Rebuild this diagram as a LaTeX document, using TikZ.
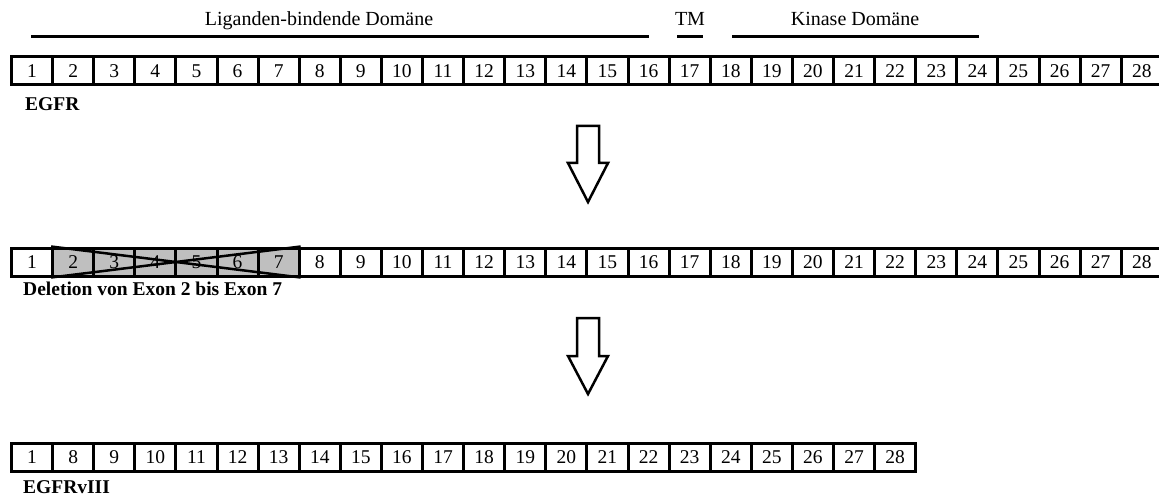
\documentclass[tikz,border=0pt]{standalone}
\usepackage{fontspec}
\setmainfont{Liberation Serif}
\begin{document}
\begin{tikzpicture}[x=1pt,y=-1pt,
  exon/.style={draw, line width=3pt, minimum width=41.1pt, minimum height=28pt,
    inner sep=0pt, fill=white, font=\fontsize{19.5}{21}\selectfont},
  deleted/.style={exon, fill=gray!50},
  rowlabel/.style={anchor=base west, inner sep=0pt, font=\fontsize{19.5}{21}\selectfont\bfseries},
  domlabel/.style={anchor=base, inner sep=0pt, font=\fontsize{20}{22}\selectfont},
  domline/.style={line width=3pt},
  cross/.style={line width=2.5pt},
  blockarrow/.style={line width=2.5pt, line join=miter, fill=white}]
\useasboundingbox (0,0) rectangle (1159,497);
\def\xo{11.5}
\def\pw{41.1}
% domain annotations
\node[domlabel] (lbd) at (319,26) {Liganden-bindende Domäne};
\node[domlabel] (tm) at (690,26) {TM};
\node[domlabel] (kd) at (855,26) {Kinase Domäne};
\coordinate (lbdA) at (31,37); \coordinate (lbdB) at (649,37);
\coordinate (tmA) at (677,37); \coordinate (tmB) at (703,37);
\coordinate (kdA) at (732,37); \coordinate (kdB) at (979,37);
\draw[domline] (lbdA) -- (lbdB);
\draw[domline] (tmA) -- (tmB);
\draw[domline] (kdA) -- (kdB);
% row 1: EGFR
\foreach \i in {1,...,28}{
  \node[exon] (a\i) at ({\xo+(\i-0.5)*\pw},71) {\i};
}
\node[rowlabel] (egfr) at (25,111) {EGFR};
% row 2: deletion
\foreach \i in {1,...,28}{
  \ifnum\i<2
    \node[exon] (b\i) at ({\xo+(\i-0.5)*\pw},262) {\i};
  \else\ifnum\i>7
    \node[exon] (b\i) at ({\xo+(\i-0.5)*\pw},262) {\i};
  \else
    \node[deleted] (b\i) at ({\xo+(\i-0.5)*\pw},262) {\i};
  \fi\fi
}
\draw[cross] (b2.north west) -- (b7.south east);
\draw[cross] (b2.south west) -- (b7.north east);
\node[rowlabel] (del) at (23,295) {Deletion von Exon 2 bis Exon 7};
% row 3: EGFRvIII
\node[exon] (c1) at ({\xo+0.5*\pw},457.5) {1};
\foreach \n [count=\k from 2] in {8,...,28}{
  \node[exon] (c\n) at ({\xo+(\k-0.5)*\pw},457.5) {\n};
}
\node[rowlabel] (viii) at (23,493) {EGFRvIII};
% block arrows
\draw[blockarrow] (577,126) -- (599,126) -- (599,163) -- (608,163) -- (588,202)
  -- (568,163) -- (577,163) -- cycle;
\draw[blockarrow] (577,318) -- (599,318) -- (599,356) -- (608,356) -- (588,394)
  -- (568,356) -- (577,356) -- cycle;
\end{tikzpicture}
\end{document}
